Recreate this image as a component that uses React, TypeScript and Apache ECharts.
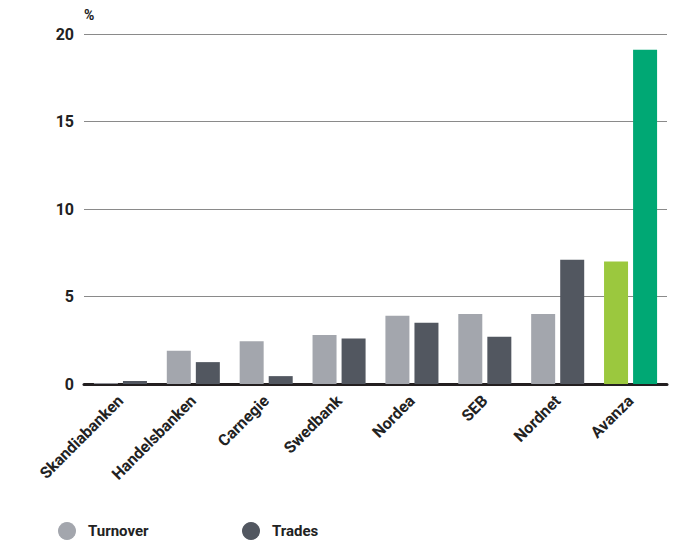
import React, { useEffect, useRef } from "react";
import * as echarts from "echarts";

const categories = ["Skandiabanken", "Handelsbanken", "Carnegie", "Swedbank", "Nordea", "SEB", "Nordnet", "Avanza"];
const turnover = [0.05, 1.9, 2.45, 2.8, 3.9, 4.0, 4.0, 7.0];
const trades = [0.17, 1.25, 0.45, 2.6, 3.5, 2.7, 7.1, 19.1];
const yTicks = [0, 5, 10, 15, 20];
const highlight = "Avanza";
const seriesNames = ["Turnover", "Trades"];

const C_TURN = "#a3a6ad";
const C_TRADE = "#525760";
const C_TURN_HI = "#9bc83e";
const C_TRADE_HI = "#00a874";

export default function App() {
  const ref = useRef<HTMLDivElement>(null);
  useEffect(() => {
    const chart = echarts.init(ref.current!, null, { renderer: "svg" });
    const font = "Roboto";
    const legendBase = {
      top: 522,
      padding: 0,
      itemWidth: 18,
      itemHeight: 18,
      icon: "circle",
      textStyle: { fontFamily: font, fontWeight: "bold", fontSize: 15, color: "#222", padding: [0, 0, 0, 7] },
    };
    chart.setOption({
      animation: false,
      textStyle: { fontFamily: font },
      grid: { left: 84, right: 18, top: 34, bottom: 159 },
      graphic: [
        { type: "text", left: 84, top: 8, style: { text: "%", font: `bold 14px ${font}`, fill: "#222" } },
      ],
      legend: [
        { ...legendBase, left: 58, data: [{ name: seriesNames[0], itemStyle: { color: C_TURN } }] },
        { ...legendBase, left: 242, data: [{ name: seriesNames[1], itemStyle: { color: C_TRADE } }] },
      ],
      xAxis: {
        type: "category",
        data: categories,
        axisLine: { show: true, lineStyle: { color: "#231f20", width: 3 } },
        axisTick: { show: false },
        axisLabel: { rotate: 45, fontFamily: font, fontWeight: "bold", fontSize: 16, color: "#222", margin: 14, interval: 0 },
      },
      yAxis: {
        type: "value",
        min: 0,
        max: 20,
        interval: 5,
        axisLine: { show: false },
        axisTick: { show: false },
        axisLabel: {
          fontFamily: font, fontWeight: "bold", fontSize: 16, color: "#222", margin: 10,
          formatter: (v: number) => (yTicks.includes(v) ? String(v) : ""),
        },
        splitLine: { lineStyle: { color: "#8a8a8a", width: 1 } },
      },
      series: [
        {
          name: seriesNames[0],
          type: "bar",
          barWidth: 24,
          barGap: "21%",
          itemStyle: { color: C_TURN },
          data: turnover.map((v, i) => ({ value: v, itemStyle: { color: categories[i] === highlight ? C_TURN_HI : C_TURN } })),
        },
        {
          name: seriesNames[1],
          type: "bar",
          barWidth: 24,
          barGap: "21%",
          itemStyle: { color: C_TRADE },
          data: trades.map((v, i) => ({ value: v, itemStyle: { color: categories[i] === highlight ? C_TRADE_HI : C_TRADE } })),
        },
      ],
    });
    return () => chart.dispose();
  }, []);
  return <div ref={ref} style={{ width: 685, height: 543, position: "absolute", left: 0, top: 0 }} />;
}
